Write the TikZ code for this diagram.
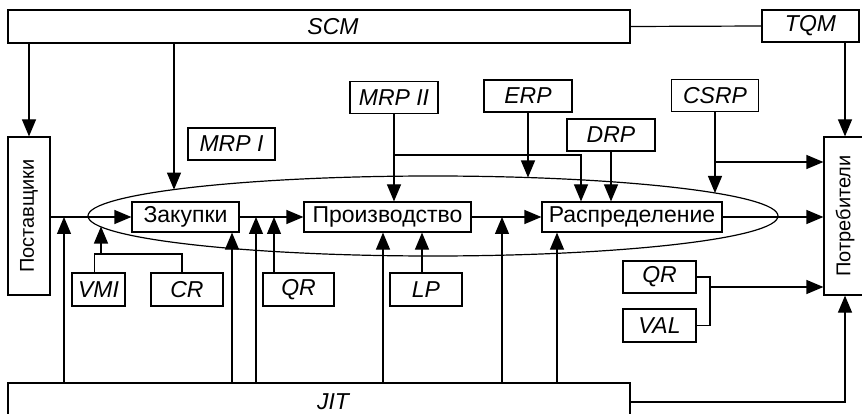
\documentclass[tikz,border=0pt]{standalone}
\usepackage{fontspec}
\setmainfont{Liberation Sans}
\usetikzlibrary{arrows.meta,positioning,calc}

\begin{document}
\begin{tikzpicture}[x=1pt,y=-1pt,>={Triangle[length=17pt,width=14pt]},line width=1.2pt,
  box/.style={draw,inner sep=0pt,minimum height=32pt},
  stage/.style={box,minimum height=30pt,font=\fontsize{23}{26}\selectfont},
  tool/.style={box,font=\fontsize{23}{26}\selectfont\itshape},
  side/.style={box,rotate=90,minimum height=42pt,minimum width=158pt,font=\fontsize{20}{24}\selectfont}]
  \useasboundingbox (0,0) rectangle (862,414);
  \node[tool,minimum width=622pt,minimum height=33pt] (scm) at (319,26.5) {\hspace*{28pt}SCM};
  \node[tool,minimum width=97pt] (tqm) at (810.5,26) {TQM};
  \node[side] (post) at (29,216) {Поставщики};
  \node[side] (potr) at (845,216) {Потребители};
  \node[stage,minimum width=107pt] (zak) at (185.5,217) {Закупки};
  \node[stage,minimum width=167pt] (proizv) at (387.5,217) {Производство};
  \node[stage,minimum width=180pt] (raspr) at (632,217) {Распределение};
  \node[tool,minimum width=87pt] (mrp1) at (231.5,144) {MRP I};
  \node[tool,minimum width=88pt] (mrp2) at (394,97.5) {MRP II};
  \node[tool,minimum width=88pt] (erp) at (528,96) {ERP};
  \node[tool,minimum width=88pt] (drp) at (611,135) {DRP};
  \node[tool,minimum width=87pt] (csrp) at (715,95.5) {CSRP};
  \node[tool,minimum width=53pt,minimum height=33pt] (vmi) at (98.5,289.5) {VMI};
  \node[tool,minimum width=72pt,minimum height=33pt] (cr) at (187,289.5) {CR};
  \node[tool,minimum width=71pt,minimum height=33pt] (qra) at (298.5,289.5) {QR};
  \node[tool,minimum width=72pt,minimum height=33pt] (lp) at (426,289.5) {LP};
  \node[tool,minimum width=73pt] (qrb) at (659.5,277) {QR};
  \node[tool,minimum width=73pt,minimum height=33pt] (val) at (659.5,325.5) {VAL};
  \node[tool,minimum width=622pt,minimum height=38pt] (jit) at (319,402) {\hspace*{28pt}JIT};
  \draw (433,216) ellipse [x radius=345pt,y radius=40pt];
  \coordinate (e0) at (101,226.5);
  \coordinate (e1) at (174,189.6);
  \coordinate (vc) at (101,254);
  \coordinate (m2) at (394,155);
  \coordinate (cs) at (715,162);
  \coordinate (qv) at (710,287);
  \coordinate (j1) at (64,217);
  \coordinate (j2) at (256,217);
  \coordinate (j3) at (502,217);
  \coordinate (zb) at ([xshift=46.5pt]zak.south);
  \coordinate (pb) at ([xshift=-4.5pt]proizv.south);
  \coordinate (rb) at ([xshift=-75pt]raspr.south);
  \draw[->] (post.south |- zak.west) -- (zak.west);
  \draw[->] (zak.east) -- (proizv.west);
  \draw[->] (proizv.east) -- (raspr.west);
  \draw[->] (raspr.east) -- (raspr.east -| potr.north);
  \draw[->] (scm.south -| post.east) -- (post.east);
  \draw[->] (scm.south -| e1) -- (e1);
  \draw (scm.east) -- (tqm.west);
  \draw[->] (tqm.south -| potr.east) -- (potr.east);
  \draw[->] (mrp2.south) -- (mrp2.south |- proizv.north);
  \draw[->] (m2) -| ([xshift=-51pt]raspr.north);
  \draw[->] (erp.south) -- (erp.south |- 0,177.5);
  \draw[->] (drp.south) -- (drp.south |- raspr.north);
  \draw[->] (csrp.south) -- (csrp.south |- 0,193);
  \draw[->] (cs) -- (cs -| potr.north);
  \draw ([xshift=-4pt]vmi.north) |- (vc) -| ([xshift=-5pt]cr.north);
  \draw[->] (vc) -- (e0);
  \draw[->] ([xshift=-24.5pt]qra.north) -- ([xshift=-24.5pt]qra.north |- zak.east);
  \draw[->] ([xshift=-4pt]lp.north) -- ([xshift=-4pt]lp.north |- proizv.south);
  \draw (qrb.east) -| (qv) |- (val.east);
  \draw[->] (qv) -- (qv -| potr.north);
  \foreach \j in {j1,j2,j3} \draw[->] (jit.north -| \j) -- (\j);
  \foreach \b in {zb,pb,rb} \draw[->] (jit.north -| \b) -- (\b);
  \draw[->] (jit.east) -| (potr.west);
\end{tikzpicture}
\end{document}
